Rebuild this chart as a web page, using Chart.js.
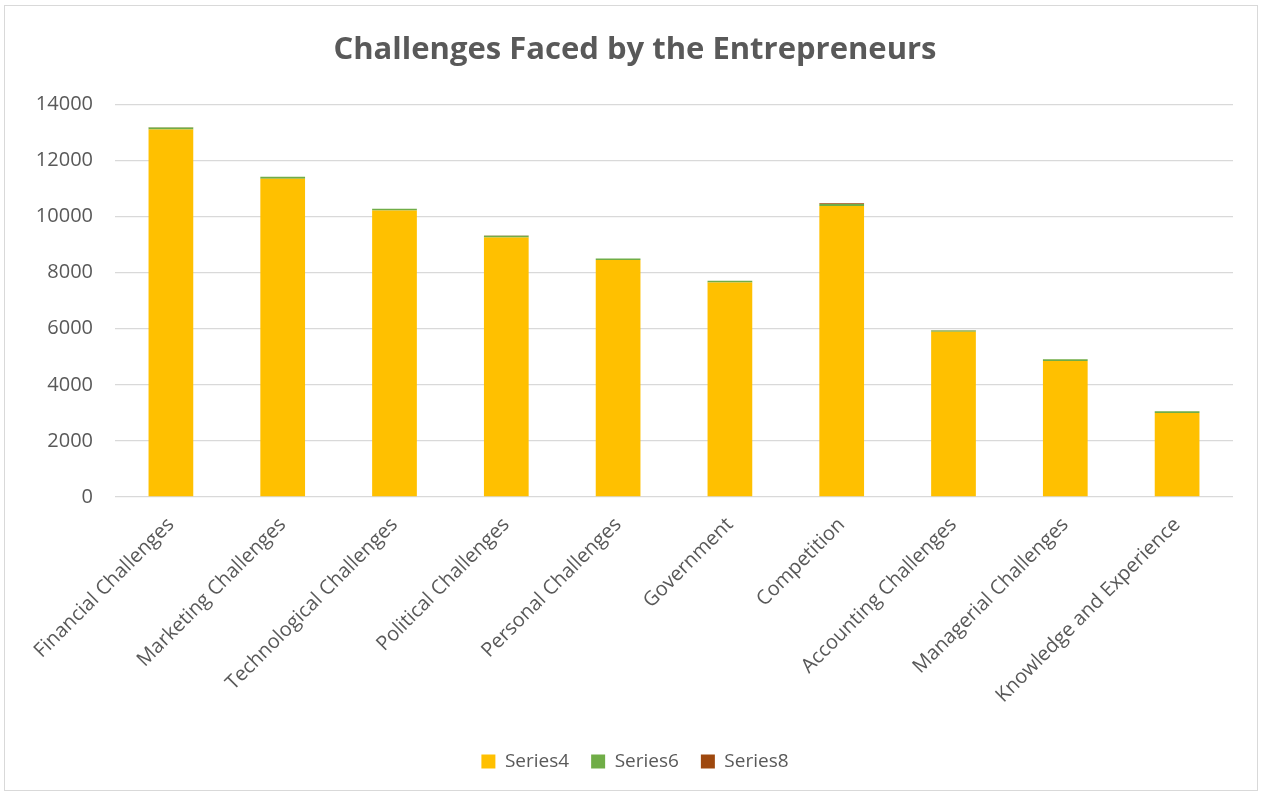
<!DOCTYPE html>
<html>
<head>
<meta charset="utf-8">
<title>Challenges Faced by the Entrepreneurs</title>
<script src="https://cdn.jsdelivr.net/npm/chart.js@4/dist/chart.umd.min.js"></script>
<style>
  html, body { margin: 0; padding: 0; background: #fff; }
  #wrap {
    position: absolute; left: 4px; top: 5px;
    width: 1252px; height: 784px;
    border: 1px solid #d9d9d9;
  }
</style>
</head>
<body>
<div id="wrap"><canvas id="chart"></canvas></div>
<script>
var categories = [
  'Financial Challenges', 'Marketing Challenges', 'Technological Challenges',
  'Political Challenges', 'Personal Challenges', 'Government', 'Competition',
  'Accounting Challenges', 'Managerial Challenges', 'Knowledge and Experience'
];
var series4 = [13110, 11350, 10220, 9260, 8450, 7655, 10380, 5890, 4850, 3000];
var series6 = [70, 70, 60, 60, 55, 55, 70, 50, 60, 55];
var series8 = [5, 5, 5, 5, 5, 5, 25, 5, 5, 5];
var yTicks = [0, 2000, 4000, 6000, 8000, 10000, 12000, 14000];

var textColor = '#595959';
var gridColor = '#d9d9d9';
var family = "'Open Sans', 'Noto Sans', sans-serif";
var padBottom = 9;
var plotBottom = 491;

Chart.defaults.font.family = family;
Chart.defaults.color = textColor;

function makeSet(label, data, color) {
  return {
    label: label,
    data: data,
    backgroundColor: color,
    borderWidth: 0,
    categoryPercentage: 1,
    barPercentage: 0.4
  };
}

new Chart(document.getElementById('chart'), {
  type: 'bar',
  data: {
    labels: categories,
    datasets: [
      makeSet('Series4', series4, '#FFC000'),
      makeSet('Series6', series6, '#70AD47'),
      makeSet('Series8', series8, '#9E480E')
    ]
  },
  options: {
    responsive: true,
    maintainAspectRatio: false,
    animation: false,
    layout: { padding: { left: 32, right: 24, top: 0, bottom: padBottom } },
    plugins: {
      title: {
        display: true,
        text: 'Challenges Faced by the Entrepreneurs',
        color: textColor,
        font: { size: 31, weight: 'bold' },
        padding: { top: 26, bottom: 35.3 }
      },
      legend: {
        position: 'bottom',
        labels: {
          boxWidth: 14,
          boxHeight: 14,
          padding: 22,
          font: { size: 19 },
          color: textColor
        }
      },
      tooltip: { enabled: false }
    },
    scales: {
      x: {
        stacked: true,
        grid: { display: false },
        border: { display: false },
        ticks: {
          minRotation: 45,
          maxRotation: 45,
          font: { size: 20 },
          color: textColor,
          padding: 8
        }
      },
      y: {
        stacked: true,
        min: 0,
        max: 14000,
        afterBuildTicks: function (scale) {
          scale.ticks = yTicks.map(function (v) { return { value: v }; });
        },
        grid: { color: gridColor, lineWidth: 1.3, drawTicks: false },
        border: { display: false },
        ticks: {
          font: { size: 20 },
          color: textColor,
          padding: 22,
          callback: function (v) { return String(v); }
        },
        afterFit: function (scale) { scale.width = 78; }
      }
    }
  },
  plugins: [{
    // keep the plot bottom fixed; the x axis takes whatever room is left above the legend
    id: 'fixPlotBottom',
    beforeLayout: function (chart) {
      chart.options.scales.x.afterFit = function (scale) {
        var legendH = chart.legend ? chart.legend.height : 0;
        scale.height = chart.height - padBottom - legendH - plotBottom;
      };
    }
  }]
});
</script>
</body>
</html>
